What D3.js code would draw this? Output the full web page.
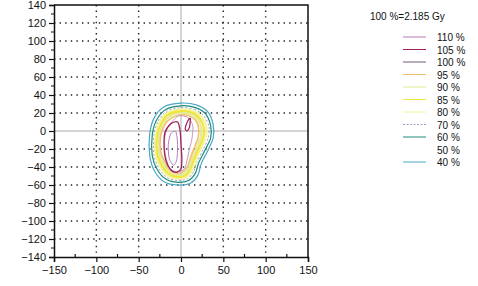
<!DOCTYPE html>
<html lang="en">
<head>
<meta charset="utf-8">
<title>Isodose contours</title>
<script src="https://cdn.jsdelivr.net/npm/d3@7/dist/d3.min.js"></script>
<style>
  body { margin: 0; background: #fff; }
  text { font-family: "Liberation Sans", Arial, sans-serif; fill: #111; }
</style>
</head>
<body>
<script>
var w = 478, h = 286;

// axis ticks
var xTicks = [-150, -100, -50, 0, 50, 100, 150];
var yTicks = [-140, -120, -100, -80, -60, -40, -20, 0, 20, 40, 60, 80, 100, 120, 140];
var xGrid = [-100, -50, 50, 100];
var yGrid = [-120, -100, -80, -60, -40, -20, 20, 40, 60, 80, 100, 120];

// legend
var legendTitle = "100 %=2.185 Gy";
var levels = ["110 %", "105 %", "100 %", "95 %", "90 %", "85 %", "80 %", "70 %", "60 %", "50 %", "40 %"];
var levelColors = ["#b27ab6", "#a0205c", "#6e5a78", "#f0c070", "#e4ea98", "#f0e636", "#f6f2a4", "#98a2c8", "#1e8a78", "#ffffff", "#48a8c8"];

// contours, [x, y] in mm
var c40 = [[0,31],[18,29],[32,21],[38,7],[38,-8],[31,-23],[24,-36],[20,-49],[11,-58],[-4,-60],[-19,-57],[-31,-45],[-37,-27],[-37,-4],[-32,14],[-20,27]];
var c60 = [[0,28],[17,26],[29,19],[35,6],[35,-8],[28,-22],[21,-35],[17,-47],[9,-55],[-4,-57],[-17,-54],[-28,-43],[-34,-27],[-34,-5],[-29,12],[-18,24]];
var c70 = [[0,26],[16,24],[27,17],[33,5],[32,-8],[26,-21],[19,-34],[15,-45],[8,-53],[-4,-55],[-16,-52],[-26,-42],[-32,-27],[-32,-5],[-27,11],[-17,22]];
var c80 = [[0,24],[15,22],[25,15],[30,4],[29,-8],[23,-20],[17,-33],[13,-44],[7,-51],[-4,-53],[-15,-50],[-24,-40],[-30,-26],[-30,-5],[-25,10],[-16,20]];
var c85 = [[0,22],[14,20],[23,13],[27,3],[26,-8],[21,-19],[15,-32],[11,-42],[6,-49],[-4,-51],[-14,-48],[-22,-39],[-28,-25],[-28,-5],[-23,9],[-15,18]];
var c90 = [[0,20],[13,18],[21,11],[24,2],[23,-8],[19,-18],[13,-31],[10,-40],[5,-47],[-4,-49],[-13,-46],[-20,-37],[-26,-24],[-26,-5],[-21,8],[-14,16]];
var c95 = [[0,18],[12,16],[19,9],[21,1],[20,-8],[16,-18],[11,-30],[8,-39],[3,-45],[-4,-47],[-12,-44],[-18,-36],[-24,-23],[-24,-5],[-19,7],[-12,14]];
var c100 = [[-2,17],[8,15],[14,6],[13,-8],[10,-20],[7,-33],[4,-42],[-2,-45],[-10,-44],[-15,-38],[-19,-24],[-19,-6],[-15,5],[-8,13]];
var c105 = [[-12,8],[-4,10],[-1,0],[0,-15],[1,-30],[0,-42],[-6,-46],[-13,-42],[-18,-32],[-20,-18],[-19,-2]];
var c105b = [[5,3],[8,11],[11,14],[10,4],[7,0]];
var c110 = [[-12,-3],[-6,-1],[-4,-15],[-5,-32],[-9,-38],[-14,-30],[-15,-15]];

var contours = [
  {pts: c40, color: levelColors[10], width: 1.2},
  {pts: c60, color: levelColors[8], width: 1.2},
  {pts: c70, color: levelColors[7], width: 1, dash: "2,2"},
  {pts: c80, color: levelColors[6], width: 2.2},
  {pts: c85, color: levelColors[5], width: 2.2},
  {pts: c90, color: levelColors[4], width: 2.2},
  {pts: c95, color: levelColors[3], width: 1.6},
  {pts: c100, color: "#c49ac0", width: 1},
  {pts: c105, color: levelColors[1], width: 1.3},
  {pts: c105b, color: levelColors[1], width: 1.2},
  {pts: c110, color: levelColors[0], width: 1}
];

var svg = d3.select("body").append("svg").attr("width", w).attr("height", h);

var xScale = d3.scaleLinear().domain([-150, 150]).range([54, 308]);
var yScale = d3.scaleLinear().domain([-140, 140]).range([257, 5]);

// dotted grid
svg.append("g").selectAll("line").data(yGrid).enter().append("line")
  .attr("x1", xScale(-150)).attr("x2", xScale(150))
  .attr("y1", function(d) { return yScale(d); })
  .attr("y2", function(d) { return yScale(d); })
  .attr("stroke", "#222").attr("stroke-width", 1.4)
  .attr("stroke-dasharray", "1.4,4.2");

svg.append("g").selectAll("line").data(xGrid).enter().append("line")
  .attr("x1", function(d) { return xScale(d); })
  .attr("x2", function(d) { return xScale(d); })
  .attr("y1", yScale(140)).attr("y2", yScale(-140))
  .attr("stroke", "#222").attr("stroke-width", 1.4)
  .attr("stroke-dasharray", "1.4,4.2");

// zero lines
svg.append("line")
  .attr("x1", xScale(-150)).attr("x2", xScale(150))
  .attr("y1", yScale(0)).attr("y2", yScale(0))
  .attr("stroke", "#aaa").attr("stroke-width", 1);
svg.append("line")
  .attr("x1", xScale(0)).attr("x2", xScale(0))
  .attr("y1", yScale(140)).attr("y2", yScale(-140))
  .attr("stroke", "#aaa").attr("stroke-width", 1);

// isodose lines
var line = d3.line()
  .x(function(d) { return xScale(d[0]); })
  .y(function(d) { return yScale(d[1]); })
  .curve(d3.curveCardinalClosed.tension(0.2));

svg.append("g").selectAll("path").data(contours).enter().append("path")
  .attr("d", function(d) { return line(d.pts); })
  .attr("fill", "none")
  .attr("stroke", function(d) { return d.color; })
  .attr("stroke-width", function(d) { return d.width; })
  .attr("stroke-dasharray", function(d) { return d.dash || null; });

// axes
var xAxis = d3.axisBottom(xScale).tickValues(xTicks).tickSize(5).tickPadding(4);
var yAxis = d3.axisLeft(yScale).tickValues(yTicks).tickSize(5).tickPadding(3);

var gx = svg.append("g")
  .attr("transform", "translate(0," + yScale(-140) + ")")
  .call(xAxis);
var gy = svg.append("g")
  .attr("transform", "translate(" + xScale(-150) + ",0)")
  .call(yAxis);
[gx, gy].forEach(function(g) {
  g.select(".domain").attr("stroke", "#111").attr("stroke-width", 1.5);
  g.selectAll(".tick line").attr("stroke", "#111").attr("stroke-width", 1.2);
  g.selectAll("text").attr("font-size", 11)
    .attr("font-family", "Liberation Sans, Arial, sans-serif").attr("fill", "#111");
});

// minor ticks
svg.append("g").selectAll("line").data(d3.range(-125, 150, 50)).enter().append("line")
  .attr("x1", function(d) { return xScale(d); })
  .attr("x2", function(d) { return xScale(d); })
  .attr("y1", yScale(-140)).attr("y2", yScale(-140) - 3)
  .attr("stroke", "#111").attr("stroke-width", 1.2);
svg.append("g").selectAll("line").data(d3.range(-130, 140, 20)).enter().append("line")
  .attr("x1", xScale(-150)).attr("x2", xScale(-150) - 3)
  .attr("y1", function(d) { return yScale(d); })
  .attr("y2", function(d) { return yScale(d); })
  .attr("stroke", "#111").attr("stroke-width", 1);

// frame top and right
svg.append("path")
  .attr("d", "M" + xScale(-150) + "," + yScale(140) + "H" + xScale(150) + "V" + yScale(-140))
  .attr("fill", "none").attr("stroke", "#111").attr("stroke-width", 1.5);

// legend
var lg = svg.append("g");
lg.append("text").attr("x", 370).attr("y", 20)
  .attr("font-size", 10).text(legendTitle);

var ly = d3.scalePoint().domain(levels).range([37, 162]);
var row = lg.selectAll("g.row").data(levels).enter().append("g")
  .attr("transform", function(d) { return "translate(0," + ly(d) + ")"; });
row.append("line")
  .attr("x1", 403).attr("x2", 426).attr("y1", 0).attr("y2", 0)
  .attr("stroke", function(d, i) { return levelColors[i]; })
  .attr("stroke-width", 1)
  .attr("stroke-dasharray", function(d) { return d === "70 %" ? "2,1.5" : null; });
row.append("text").attr("x", 437).attr("y", 4)
  .attr("font-size", 10).text(function(d) { return d; });
</script>
</body>
</html>
